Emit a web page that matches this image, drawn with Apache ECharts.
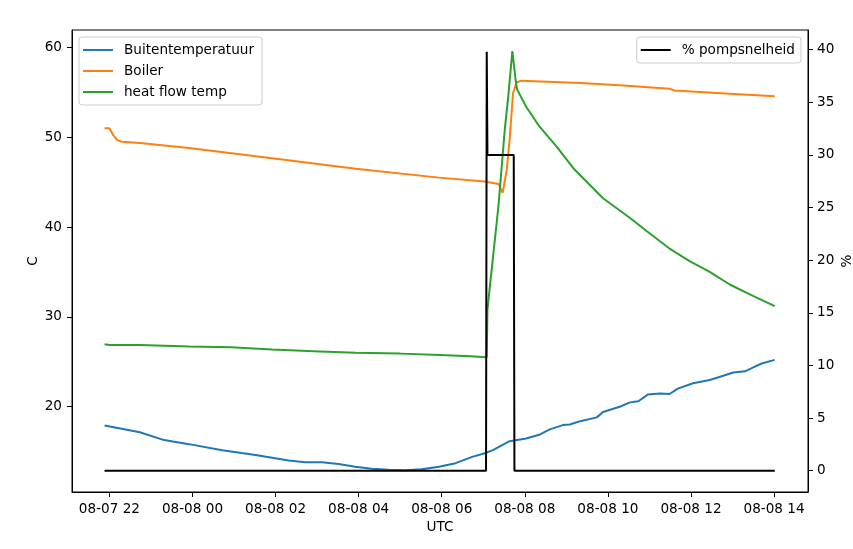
<!DOCTYPE html>
<html>
<head>
<meta charset="utf-8">
<script src="https://cdn.jsdelivr.net/npm/echarts@6/dist/echarts.min.js"></script>
<style>html,body{margin:0;padding:0;background:#fff}#c{width:853px;height:549px}</style>
</head>
<body>
<div id="c"></div>
<script>
// ---- data (UTC times) ----
const buitenTimes = ['2023-08-07T21:53','2023-08-07T22:44','2023-08-07T23:19','2023-08-07T23:55','2023-08-08T00:43','2023-08-08T01:31','2023-08-08T02:19','2023-08-08T02:43','2023-08-08T03:07','2023-08-08T03:31','2023-08-08T03:55','2023-08-08T04:19','2023-08-08T04:43','2023-08-08T05:07','2023-08-08T05:31','2023-08-08T05:56','2023-08-08T06:20','2023-08-08T06:44','2023-08-08T07:02','2023-08-08T07:14','2023-08-08T07:38','2023-08-08T08:02','2023-08-08T08:22','2023-08-08T08:36','2023-08-08T08:55','2023-08-08T09:05','2023-08-08T09:20','2023-08-08T09:44','2023-08-08T09:53','2023-08-08T10:17','2023-08-08T10:32','2023-08-08T10:44','2023-08-08T10:58','2023-08-08T11:15','2023-08-08T11:29','2023-08-08T11:41','2023-08-08T12:03','2023-08-08T12:27','2023-08-08T12:41','2023-08-08T13:01','2023-08-08T13:18','2023-08-08T13:30','2023-08-08T13:42','2023-08-08T14:01'];
const buitenTemp = [17.9,17.15,16.27,15.82,15.15,14.6,14.0,13.8,13.8,13.6,13.3,13.07,12.96,12.92,13.03,13.3,13.7,14.4,14.8,15.15,16.15,16.45,16.9,17.46,17.94,18.0,18.38,18.8,19.4,19.98,20.47,20.6,21.36,21.47,21.4,22.0,22.6,22.96,23.3,23.8,23.93,24.37,24.8,25.2];

const boilerTimes = ['2023-08-07T21:53','2023-08-07T22:00','2023-08-07T22:05','2023-08-07T22:11','2023-08-07T22:18','2023-08-07T22:44','2023-08-07T23:55','2023-08-08T01:55','2023-08-08T03:56','2023-08-08T05:56','2023-08-08T07:02','2023-08-08T07:22','2023-08-08T07:28','2023-08-08T07:34','2023-08-08T07:38','2023-08-08T07:43','2023-08-08T07:48','2023-08-08T07:55','2023-08-08T09:20','2023-08-08T10:17','2023-08-08T11:29','2023-08-08T11:36','2023-08-08T12:56','2023-08-08T14:01'];
const boilerTemp = [51.0,51.0,50.3,49.7,49.5,49.35,48.8,47.65,46.5,45.5,45.06,44.8,43.8,46.4,49.7,54.9,56.1,56.3,56.05,55.8,55.4,55.2,54.85,54.55];

const flowTimes = ['2023-08-07T21:53','2023-08-07T22:00','2023-08-07T22:44','2023-08-07T23:55','2023-08-08T00:55','2023-08-08T01:55','2023-08-08T03:04','2023-08-08T03:56','2023-08-08T05:00','2023-08-08T05:58','2023-08-08T06:41','2023-08-08T07:05','2023-08-08T07:06','2023-08-08T07:22','2023-08-08T07:31','2023-08-08T07:36','2023-08-08T07:42','2023-08-08T07:47','2023-08-08T07:49','2023-08-08T08:02','2023-08-08T08:21','2023-08-08T08:46','2023-08-08T09:10','2023-08-08T09:53','2023-08-08T10:32','2023-08-08T11:00','2023-08-08T11:29','2023-08-08T11:58','2023-08-08T12:27','2023-08-08T12:56','2023-08-08T13:25','2023-08-08T14:01'];
const flowTemp = [26.95,26.85,26.85,26.7,26.6,26.35,26.15,26.0,25.9,25.75,25.6,25.5,30.8,42.4,50.8,54.5,59.6,56.2,55.3,53.4,51.2,48.96,46.55,43.2,41.0,39.3,37.6,36.2,35.0,33.6,32.5,31.2];

const pumpTimes = ['2023-08-07T21:53','2023-08-08T07:04','2023-08-08T07:05','2023-08-08T07:06','2023-08-08T07:44','2023-08-08T07:45','2023-08-08T14:01'];
const pumpPct = [0,0,39.8,30,30,0,0];

const xTicks = ['2023-08-07T22:00','2023-08-08T00:00','2023-08-08T02:00','2023-08-08T04:00','2023-08-08T06:00','2023-08-08T08:00','2023-08-08T10:00','2023-08-08T12:00','2023-08-08T14:00'];
const leftTicks = [20,30,40,50,60];
const rightTicks = [0,5,10,15,20,25,30,35,40];

// ---- helpers ----
const T = s => Date.parse(s + ':00Z');
const zip = (ts, vs) => ts.slice(0, Math.min(ts.length, vs.length)).map((t, i) => [T(t), vs[i]]);
const p2 = n => String(n).padStart(2, '0');
const fmtX = v => { const d = new Date(v); return p2(d.getUTCMonth() + 1) + '-' + p2(d.getUTCDate()) + ' ' + p2(d.getUTCHours()); };

const FONT = 'DejaVu Sans';
const FS = 13.6;
const axisCommon = {
  axisLine: { show: true, onZero: false, lineStyle: { color: '#000', width: 1 } },
  axisTick: { show: true, inside: false, length: 5, lineStyle: { color: '#000', width: 1 } },
  splitLine: { show: false },
  nameMoveOverlap: false,
  nameTextStyle: { color: '#000', fontFamily: FONT, fontSize: FS },
};
const legendCommon = {
  orient: 'vertical', top: 37, icon: 'rect',
  padding: [6, 8, 6, 4], itemWidth: 30, itemHeight: 2, itemGap: 7,
  borderColor: '#cccccc', borderWidth: 1, borderRadius: 3, backgroundColor: 'rgba(255,255,255,0.8)',
  textStyle: { color: '#000', fontFamily: FONT, fontSize: FS, lineHeight: 14, padding: [0, 0, 0, 6] },
  selectedMode: false
};

const chart = echarts.init(document.getElementById('c'), null, { renderer: 'canvas' });
chart.setOption({
  animation: false,
  backgroundColor: '#fff',
  textStyle: { fontFamily: FONT },
  grid: { left: 72, right: 45, top: 30, bottom: 57, show: true, borderColor: '#000', borderWidth: 1, backgroundColor: 'transparent', containLabel: false, outerBoundsMode: 'none' },
  legend: [
    Object.assign({}, legendCommon, { data: ['Buitentemperatuur', 'Boiler', 'heat flow temp'], left: 79 }),
    Object.assign({}, legendCommon, { data: ['% pompsnelheid'], right: 52, padding: [6, 6, 6, 4] })
  ],
  xAxis: Object.assign({}, axisCommon, {
    type: 'value',
    min: T('2023-08-07T21:06'), max: T('2023-08-08T14:49'),
    name: 'UTC', nameLocation: 'middle', nameGap: 28,
    axisTick: Object.assign({}, axisCommon.axisTick, { customValues: xTicks.map(T) }),
    axisLabel: { customValues: xTicks.map(T), formatter: fmtX, color: '#000', fontFamily: FONT, fontSize: FS, margin: 10 }
  }),
  yAxis: [
    Object.assign({}, axisCommon, {
      type: 'value', position: 'left', min: 10.49, max: 61.94,
      name: 'C', nameLocation: 'middle', nameGap: 32, nameRotate: 90,
      axisTick: Object.assign({}, axisCommon.axisTick, { customValues: leftTicks }),
      axisLabel: { customValues: leftTicks, color: '#000', fontFamily: FONT, fontSize: FS, margin: 10 }
    }),
    Object.assign({}, axisCommon, {
      type: 'value', position: 'right', min: -2.02, max: 41.87,
      name: '%', nameLocation: 'middle', nameGap: 32, nameRotate: 90,
      axisTick: Object.assign({}, axisCommon.axisTick, { customValues: rightTicks }),
      axisLabel: { customValues: rightTicks, color: '#000', fontFamily: FONT, fontSize: FS, margin: 9 }
    })
  ],
  series: [
    { name: 'Buitentemperatuur', type: 'line', yAxisIndex: 0, symbol: 'none', data: zip(buitenTimes, buitenTemp), lineStyle: { color: '#1f77b4', width: 2 }, itemStyle: { color: '#1f77b4' } },
    { name: 'Boiler', type: 'line', yAxisIndex: 0, symbol: 'none', data: zip(boilerTimes, boilerTemp), lineStyle: { color: '#ff7f0e', width: 2 }, itemStyle: { color: '#ff7f0e' } },
    { name: 'heat flow temp', type: 'line', yAxisIndex: 0, symbol: 'none', data: zip(flowTimes, flowTemp), lineStyle: { color: '#2ca02c', width: 2 }, itemStyle: { color: '#2ca02c' } },
    { name: '% pompsnelheid', type: 'line', yAxisIndex: 1, symbol: 'none', data: zip(pumpTimes, pumpPct), lineStyle: { color: '#000', width: 2 }, itemStyle: { color: '#000' } }
  ]
});
</script>
</body>
</html>
